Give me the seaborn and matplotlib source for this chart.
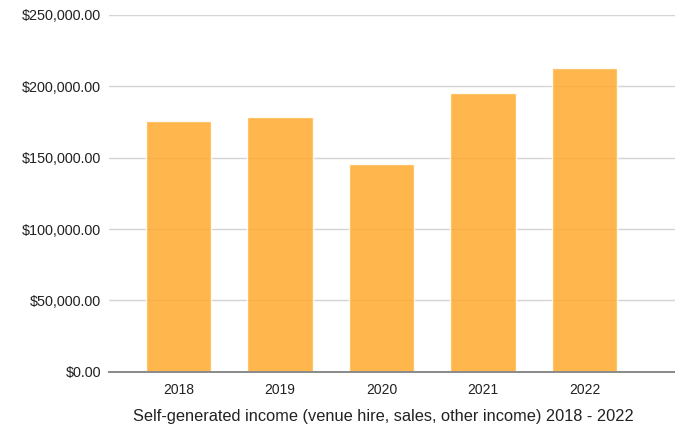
import matplotlib
matplotlib.use("Agg")
import matplotlib.pyplot as plt
import seaborn as sns
import pandas as pd
from matplotlib.ticker import FuncFormatter, MultipleLocator

# data
years = ["2018", "2019", "2020", "2021", "2022"]
income = [175800, 178150, 145700, 195400, 212450]

df = pd.DataFrame({"year": years, "income": income})

sns.set_style("white")
plt.rcParams["font.family"] = ["Liberation Sans", "DejaVu Sans"]

fig = plt.figure(figsize=(6.75, 4.24), dpi=100)
ax = fig.add_axes([0.162, 0.123, 0.838, 0.842])

sns.barplot(data=df, x="year", y="income", color="#ffab2e", alpha=0.85,
            width=0.646, saturation=1, ax=ax, zorder=2)

ax.set_ylim(0, 250000)
ax.set_xlim(-0.683, 4.89)
ax.yaxis.set_major_locator(MultipleLocator(50000))
ax.yaxis.set_major_formatter(FuncFormatter(lambda v, p: f"${v:,.2f}"))
ax.grid(axis="y", color="#d4d4d4", linewidth=1, zorder=0)
ax.set_axisbelow(True)

for s in ["top", "right", "left"]:
    ax.spines[s].set_visible(False)
ax.spines["bottom"].set_color("#8a8a8a")
ax.spines["bottom"].set_linewidth(1.4)
ax.spines["bottom"].set_zorder(3)

ax.tick_params(axis="y", length=0, pad=6, labelsize=10.4, labelcolor="#222222")
ax.tick_params(axis="x", length=0, pad=8, labelsize=10, labelcolor="#222222")
ax.set_ylabel("")
ax.set_xlabel("Self-generated income (venue hire, sales, other income) 2018 - 2022",
              fontsize=11.8, color="#222222")
ax.xaxis.set_label_coords(0.485, -0.103)

fig.savefig("out.png", dpi=100)
